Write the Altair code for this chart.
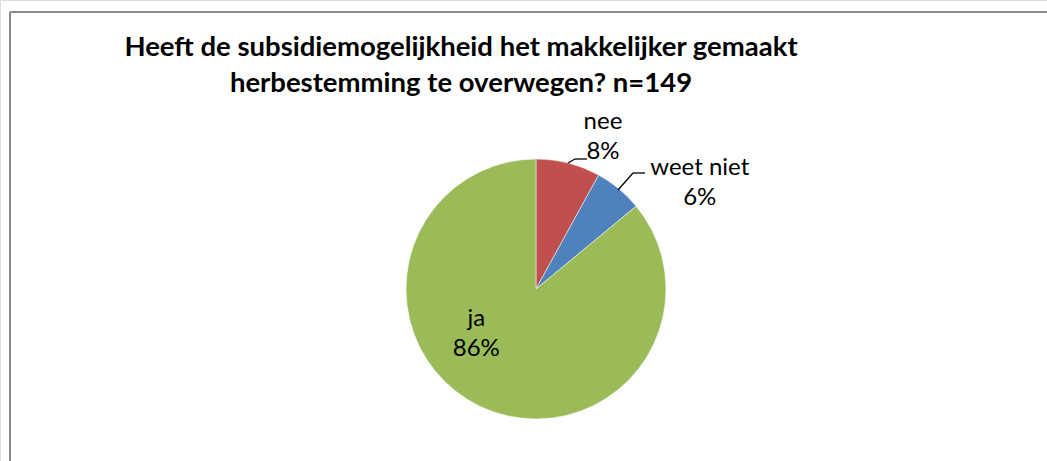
import math
import altair as alt
import pandas as pd

# ---- data ----
categories = ["nee", "weet niet", "ja"]
percentages = [8, 6, 86]
colors = ["#C0504D", "#4F81BD", "#9BBB59"]
title_lines = ["Heeft de subsidiemogelijkheid het makkelijker gemaakt",
               "herbestemming te overwegen? n=149"]

W, H = 1047, 461
CX, CY, R = 536, 289, 130

df = pd.DataFrame({
    "category": categories,
    "value": percentages,
    "order": [0, 1, 2],
})
df["label"] = [f"{c}\n{v}%" for c, v in zip(categories, percentages)]

# label placement in polar coordinates around the pie centre (deg clockwise from top, px)
label_angle_deg = [23.8, 57.1, 232.8]
label_radius = [166, 195, 75]
df["label_theta"] = [math.radians(a) for a in label_angle_deg]
df["label_r"] = label_radius

color_scale = alt.Scale(domain=categories, range=colors)

pie = alt.Chart(df).mark_arc(stroke="white", strokeWidth=0.5).encode(
    theta=alt.Theta("value:Q", stack=True, scale=alt.Scale(domain=[0, 100])),
    order=alt.Order("order:Q"),
    color=alt.Color("category:N", scale=color_scale, legend=None),
    x=alt.value(CX), y=alt.value(CY),
    radius=alt.value(R),
)

labels = alt.Chart(df).mark_text(
    font="Lato", fontSize=24, color="#000000", lineBreak="\n", lineHeight=30,
    align="center", baseline="middle", dy=-15,
).encode(
    theta=alt.Theta("label_theta:Q", scale=None),
    radius=alt.Radius("label_r:Q", scale=None),
    text="label:N",
    x=alt.value(CX), y=alt.value(CY),
)

# leader lines
leaders = pd.DataFrame({
    "x": [568, 575, 618, 633],
    "y": [163, 159, 190, 173],
    "x2": [575, 587, 633, 645],
    "y2": [159, 159, 173, 173],
})
leader_rules = alt.Chart(leaders).mark_rule(color="#000000", strokeWidth=1.3).encode(
    x=alt.X("x:Q", scale=None), y=alt.Y("y:Q", scale=None),
    x2="x2:Q", y2="y2:Q",
)

# title lines
tdf = pd.DataFrame({"t": title_lines, "line": [0, 1]})
title = alt.Chart(tdf).mark_text(
    font="Lato", fontSize=27.5, fontWeight="bold", color="#000000",
    align="center", baseline="alphabetic",
).encode(
    text="t:N",
    x=alt.value(461),
    y=alt.Y("line:Q", scale=alt.Scale(domain=[0, 1], range=[56, 92]), axis=None),
)

# outer frame (top and left edges visible)
frame = pd.DataFrame({"x": [10, 10], "y": [12, 12], "x2": [W, 10], "y2": [12, H]})
frame_rules = alt.Chart(frame).mark_rule(color="#8A8A8A", strokeWidth=2).encode(
    x=alt.X("x:Q", scale=None), y=alt.Y("y:Q", scale=None),
    x2="x2:Q", y2="y2:Q",
)

chart = alt.layer(frame_rules, title, pie, leader_rules, labels).properties(
    width=W, height=H, padding=0, autosize=alt.AutoSizeParams(type="none"),
).configure_view(stroke=None).configure(background="white")

chart.save("out.html", embed_options={"renderer": "svg", "actions": False})
